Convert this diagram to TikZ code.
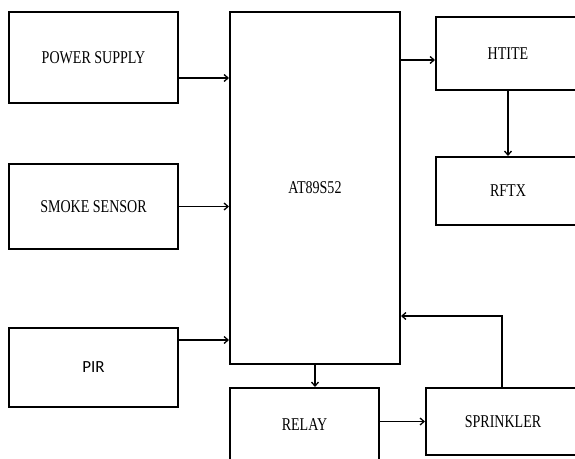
\documentclass[tikz,border=0pt]{standalone}
\usepackage{fontspec}
\setmainfont{Liberation Serif}
\newfontfamily\narrowserif[FakeStretch=0.78]{Liberation Serif}
\newfontfamily\pirfont{Carlito}
\usetikzlibrary{shapes, arrows, positioning, calc, arrows.meta}

\begin{document}
\begin{tikzpicture}[
        x=1pt, y=-1pt,
        every node/.style={align=center, font=\narrowserif\fontsize{18}{20}\selectfont},
        blk/.style={draw, line width=2pt, rectangle, inner sep=0pt},
        arr/.style={-{Straight Barb[length=4pt, width=7pt]}, line width=1.3pt}
    ]
        \useasboundingbox (0,0) rectangle (575,458);

        % inputs on the left
        \node[blk, minimum width=169pt, minimum height=91pt] (ps) at (93.5,57.5) {POWER SUPPLY};
        \node[blk, minimum width=169pt, minimum height=85pt] (ss) at (93.5,206.5) {SMOKE SENSOR};
        \node[blk, minimum width=169pt, minimum height=79pt, font=\pirfont\fontsize{17}{19}\selectfont] (pir) at (93.5,367.5) {PIR};

        % controller
        \node[blk, minimum width=170pt, minimum height=352pt] (main) at (315,188) {AT89S52};

        % outputs
        \node[blk, minimum width=144pt, minimum height=73pt] (ht) at (508,53.5) {HTITE};
        \node[blk, minimum width=144pt, minimum height=68pt] (rf) at (508,191) {RFTX};
        \node[blk, minimum width=149pt, minimum height=74pt] (relay) at (304.5,425) {RELAY};
        \node[blk, minimum width=154pt, minimum height=67pt] (sp) at (503,421.5) {SPRINKLER};

        \coordinate (psout) at ([yshift=-20.5pt]ps.east);
        \coordinate (pirout) at ([yshift=27.5pt]pir.east);
        \coordinate (htin) at ([yshift=-6.5pt]ht.west);
        \coordinate (fb) at ([yshift=-128pt]main.east);

        \draw[arr] (psout) -- (psout -| main.west);
        \draw[arr] (ss.east) -- (ss.east -| main.west);
        \draw[arr] (pirout) -- (pirout -| main.west);
        \draw[arr] (htin -| main.east) -- (htin);
        \draw[arr] (ht.south) -- (rf.north);
        \draw[arr] (main.south) -- (main.south |- relay.north);
        \draw[arr] (sp.west -| relay.east) -- (sp.west);
        \draw[arr] ([xshift=-1pt]sp.north) |- (fb);
    \end{tikzpicture}
\end{document}
